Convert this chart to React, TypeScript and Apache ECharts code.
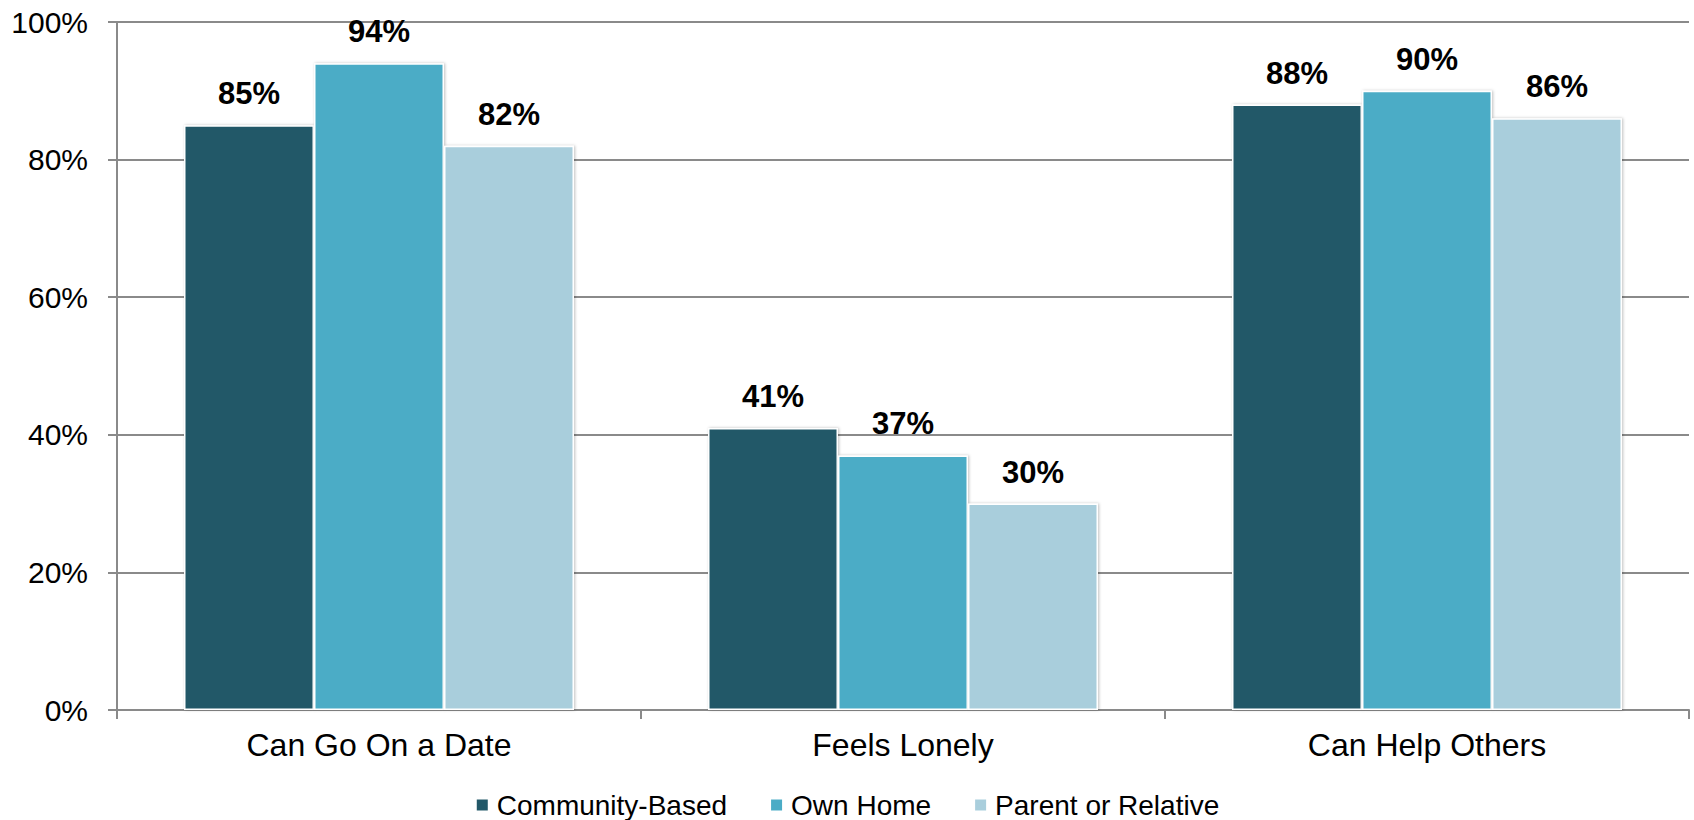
import React, { useEffect, useRef } from "react";
import * as echarts from "echarts";

const categories = ["Can Go On a Date", "Feels Lonely", "Can Help Others"];
const seriesNames = ["Community-Based", "Own Home", "Parent or Relative"];
const communityBased = [85, 41, 88];
const ownHome = [94, 37, 90];
const parentOrRelative = [82, 30, 86];
const colors = ["#225868", "#4BACC6", "#A9CEDC"];
const yTicks = { min: 0, max: 100, interval: 20 };

const FONT = "'Liberation Sans', Arial, sans-serif";

export default function App() {
  const ref = useRef<HTMLDivElement>(null);
  useEffect(() => {
    if (!ref.current) return;
    const chart = echarts.init(ref.current, null, { renderer: "svg" });
    const values = [communityBased, ownHome, parentOrRelative];
    chart.setOption({
      animation: false,
      backgroundColor: "#ffffff",
      color: colors,
      grid: { left: 117, right: 5, top: 22, bottom: 110, containLabel: false },
      legend: {
        data: seriesNames,
        top: 786,
        left: "center",
        itemWidth: 13,
        itemHeight: 13,
        itemGap: 42,
        icon: "rect",
        textStyle: { fontFamily: FONT, fontSize: 28, lineHeight: 28, color: "#000", padding: [0, 0, 0, 3] },
      },
      xAxis: {
        type: "category",
        data: categories,
        axisLine: { show: true, lineStyle: { color: "#8a8a8a", width: 2 } },
        axisTick: { show: true, length: 9, lineStyle: { color: "#8a8a8a", width: 2 } },
        axisLabel: { fontFamily: FONT, fontSize: 32, color: "#000", margin: 19 },
        splitLine: { show: false },
      },
      yAxis: {
        type: "value",
        min: yTicks.min,
        max: yTicks.max,
        interval: yTicks.interval,
        axisLine: { show: true, lineStyle: { color: "#8a8a8a", width: 2 } },
        axisTick: { show: true, length: 9, lineStyle: { color: "#8a8a8a", width: 2 } },
        axisLabel: { fontFamily: FONT, fontSize: 30, color: "#000", margin: 29, formatter: "{value}%" },
        splitLine: { show: true, lineStyle: { color: "#8a8a8a", width: 2 } },
      },
      series: seriesNames.map((name, i) => ({
        name,
        type: "bar",
        data: values[i],
        barWidth: 130,
        barGap: "0%",
        itemStyle: {
          color: colors[i],
          borderColor: "#ffffff",
          borderWidth: 1.5,
          shadowColor: "rgba(0,0,0,0.25)",
          shadowBlur: 3,
          shadowOffsetX: 1,
          shadowOffsetY: 0,
        },
        label: {
          show: true,
          position: "top",
          distance: 16,
          formatter: "{c}%",
          fontFamily: FONT,
          fontSize: 31,
          fontWeight: "bold",
          color: "#000",
        },
      })),
    });
    return () => chart.dispose();
  }, []);
  return (
    <div
      ref={ref}
      style={{ position: "fixed", left: 0, top: 0, width: 1694, height: 820 }}
    />
  );
}
